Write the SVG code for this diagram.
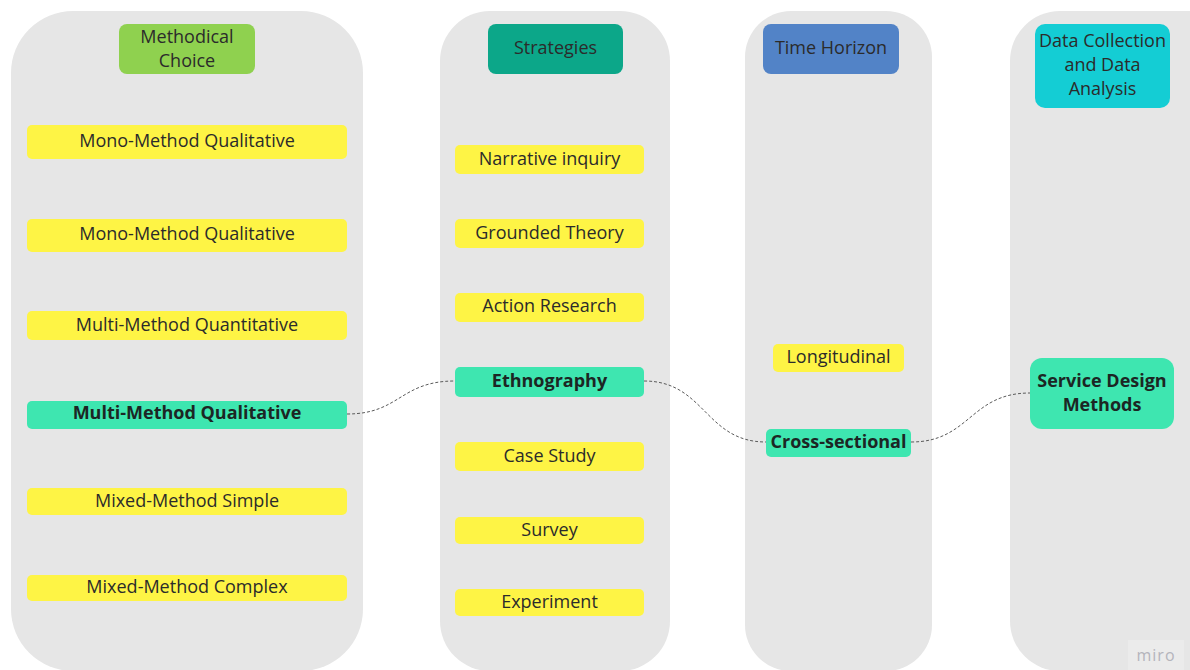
<svg xmlns="http://www.w3.org/2000/svg" width="1190" height="670" viewBox="0 0 1190 670">
<style>
.col{fill:#e6e6e6}
.t{font-family:"Open Sans","Noto Sans","Liberation Sans",sans-serif;font-size:18px;fill:#2b2b2b;text-anchor:middle;dominant-baseline:central}
.b{font-weight:bold;fill:#1c2624}
.y{fill:#fef445}
.g{fill:#3ee6b0}
.c{fill:none;stroke:#5a5a5a;stroke-width:1;stroke-dasharray:3 2}
</style>
<rect width="1190" height="670" fill="#ffffff"/>
<g id="columns">
<rect class="col" x="11" y="11" width="352" height="660" rx="62"/>
<rect class="col" x="440" y="11" width="230" height="660" rx="50"/>
<rect class="col" x="745" y="11" width="187" height="660" rx="46"/>
<rect class="col" x="1010" y="11" width="260" height="660" rx="50"/>
</g>
<g id="hdr-methodical">
<rect x="119" y="24" width="136" height="50" rx="8" fill="#8fd14f"/>
<text class="t" x="187" y="35.5">Methodical</text>
<text class="t" x="187" y="59.5">Choice</text>
</g>
<g id="hdr-strategies">
<rect x="488" y="24" width="135" height="50" rx="8" fill="#0ca789"/>
<text class="t" x="555.5" y="46.5">Strategies</text>
</g>
<g id="hdr-time">
<rect x="763" y="24" width="136" height="50" rx="8" fill="#5283c7"/>
<text class="t" x="831" y="46.5">Time Horizon</text>
</g>
<g id="hdr-data">
<rect x="1035" y="24" width="135" height="84" rx="10" fill="#14cdd4"/>
<text class="t" x="1102.5" y="39.5">Data Collection</text>
<text class="t" x="1102.5" y="63.5">and Data</text>
<text class="t" x="1102.5" y="87.5">Analysis</text>
</g>
<g id="mono1"><rect class="y" x="27" y="125" width="320" height="34" rx="5"/><text class="t" x="187" y="139.5">Mono-Method Qualitative</text></g>
<g id="mono2"><rect class="y" x="27" y="219" width="320" height="33" rx="5"/><text class="t" x="187" y="232.5">Mono-Method Qualitative</text></g>
<g id="multi-quant"><rect class="y" x="27" y="311" width="320" height="29" rx="5"/><text class="t" x="187" y="323.5">Multi-Method Quantitative</text></g>
<g id="multi-qual"><rect class="g" x="27" y="401" width="320" height="28" rx="5"/><text class="t b" x="187" y="411.5">Multi-Method Qualitative</text></g>
<g id="mixed-simple"><rect class="y" x="27" y="488" width="320" height="27" rx="5"/><text class="t" x="187" y="499.5">Mixed-Method Simple</text></g>
<g id="mixed-complex"><rect class="y" x="27" y="575" width="320" height="26" rx="5"/><text class="t" x="187" y="585.5">Mixed-Method Complex</text></g>
<g id="narrative"><rect class="y" x="455" y="145" width="189" height="29" rx="5"/><text class="t" x="549.5" y="157.5">Narrative inquiry</text></g>
<g id="grounded"><rect class="y" x="455" y="219" width="189" height="29" rx="5"/><text class="t" x="549.5" y="231.5">Grounded Theory</text></g>
<g id="action"><rect class="y" x="455" y="293" width="189" height="29" rx="5"/><text class="t" x="549.5" y="304.5">Action Research</text></g>
<g id="ethnography"><rect class="g" x="455" y="367" width="189" height="30" rx="5"/><text class="t b" x="549.5" y="379.5">Ethnography</text></g>
<g id="casestudy"><rect class="y" x="455" y="442" width="189" height="29" rx="5"/><text class="t" x="549.5" y="454.5">Case Study</text></g>
<g id="survey"><rect class="y" x="455" y="517" width="189" height="27" rx="5"/><text class="t" x="549.5" y="528.5">Survey</text></g>
<g id="experiment"><rect class="y" x="455" y="589" width="189" height="27" rx="5"/><text class="t" x="549.5" y="600.5">Experiment</text></g>
<g id="longitudinal"><rect class="y" x="773" y="344" width="131" height="28" rx="5"/><text class="t" x="838.5" y="355.5">Longitudinal</text></g>
<g id="crosssectional"><rect class="g" x="766" y="429" width="145" height="28" rx="5"/><text class="t b" x="838.5" y="440.5">Cross-sectional</text></g>
<g id="servicedesign"><rect class="g" x="1030" y="358" width="144" height="71" rx="12"/><text class="t b" x="1102" y="379.5">Service Design</text><text class="t b" x="1102" y="403.5">Methods</text></g>
<g id="connectors">
<path class="c" d="M347,414 C400,414 400,381 455,381"/>
<path class="c" d="M644,381 C705,381 705,442 766,442"/>
<path class="c" d="M911,442 C970,442 970,393 1030,393"/>
</g>
<g id="watermark">
<rect x="1128" y="640" width="56" height="30" fill="#ebebeb"/>
<text x="1156" y="661" font-family="'Open Sans','Noto Sans',sans-serif" font-size="16" fill="#b4b4bc" text-anchor="middle" letter-spacing="1">miro</text>
</g>
</svg>
